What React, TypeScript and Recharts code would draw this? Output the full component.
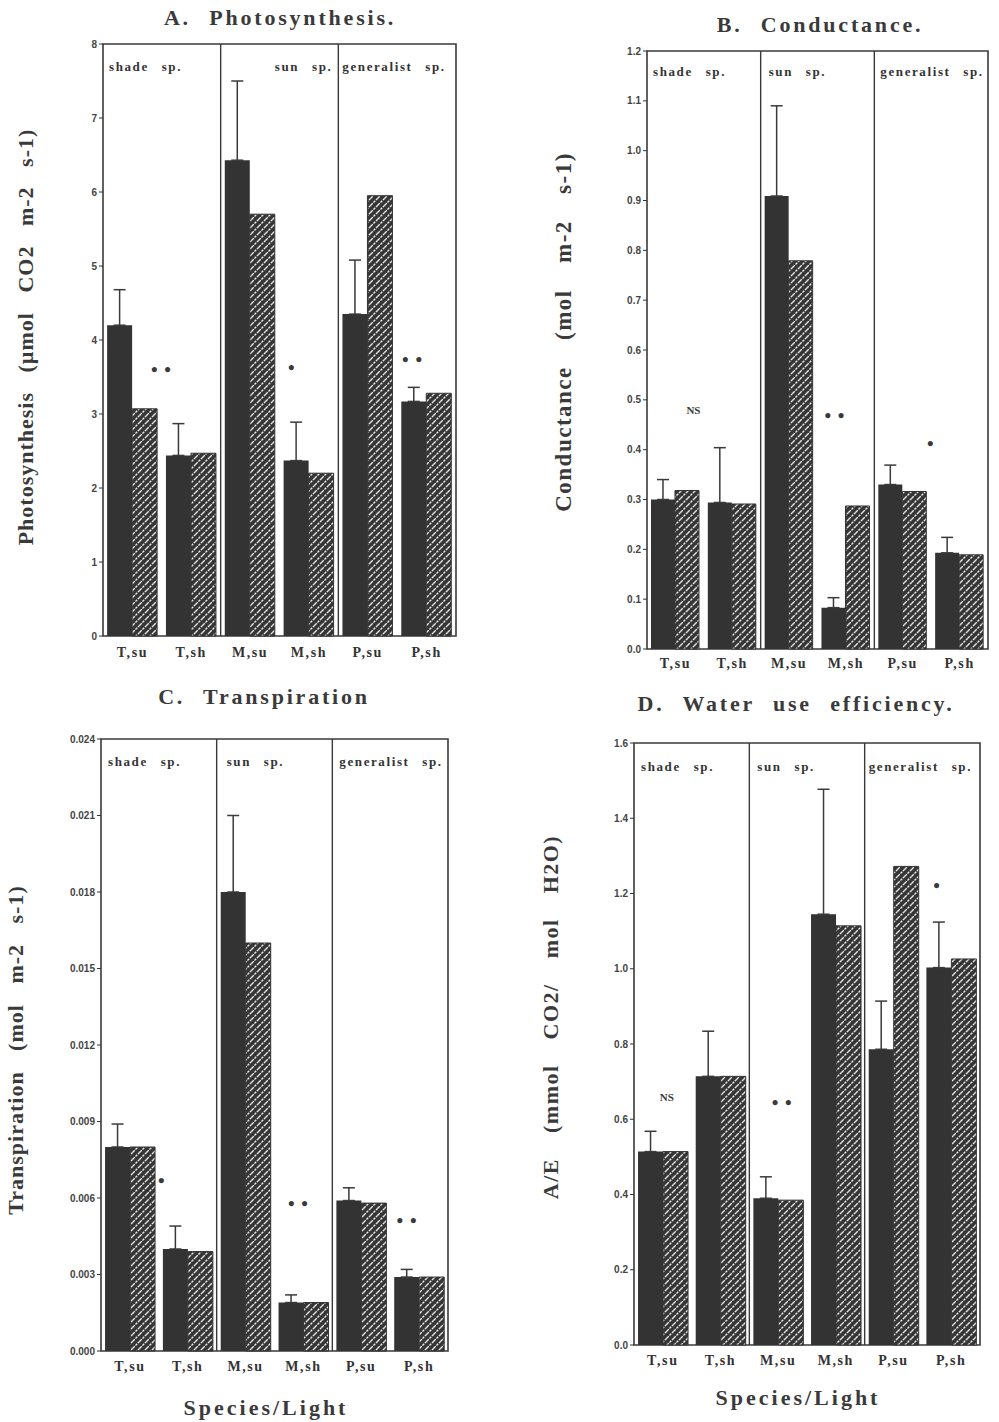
import {
  BarChart,
  Bar,
  XAxis,
  YAxis,
  ErrorBar,
  ReferenceLine,
  ReferenceArea,
  ReferenceDot,
} from "recharts";

const categories = ["T,su", "T,sh", "M,su", "M,sh", "P,su", "P,sh"];
const groupStarts = ["T,su", "M,su", "P,su"];
const groupNames = ["shade sp.", "sun sp.", "generalist sp."];

// A. Photosynthesis (umol CO2 m-2 s-1)
const photoSolid = [4.2, 2.44, 6.43, 2.37, 4.35, 3.17];
const photoErr = [0.48, 0.43, 1.07, 0.52, 0.73, 0.19];
const photoHatched = [3.07, 2.47, 5.7, 2.2, 5.95, 3.28];
const photoTicks = [0, 1, 2, 3, 4, 5, 6, 7, 8];
const photoMarks = [
  { cat: "T,su", value: 3.6, text: "• •" },
  { cat: "M,sh", value: 3.63, text: "•" },
  { cat: "P,sh", value: 3.73, text: "• •" },
];

// B. Conductance (mol m-2 s-1)
const condSolid = [0.3, 0.294, 0.909, 0.083, 0.33, 0.193];
const condErr = [0.04, 0.11, 0.181, 0.02, 0.039, 0.031];
const condHatched = [0.318, 0.291, 0.779, 0.287, 0.316, 0.189];
const condTicks = [0, 0.1, 0.2, 0.3, 0.4, 0.5, 0.6, 0.7, 0.8, 0.9, 1.0, 1.1, 1.2];
const condMarks = [
  { cat: "T,su", value: 0.48, text: "NS" },
  { cat: "M,sh", value: 0.468, text: "• •" },
  { cat: "P,su", value: 0.413, text: "•" },
];

// C. Transpiration (mol m-2 s-1)
const transSolid = [0.008, 0.004, 0.018, 0.0019, 0.0059, 0.0029];
const transErr = [0.0009, 0.0009, 0.003, 0.0003, 0.0005, 0.0003];
const transHatched = [0.008, 0.0039, 0.016, 0.0019, 0.0058, 0.0029];
const transTicks = [0, 0.003, 0.006, 0.009, 0.012, 0.015, 0.018, 0.021, 0.024];
const transMarks = [
  { cat: "T,sh", value: 0.0067, text: "•" },
  { cat: "M,sh", value: 0.0058, text: "• •" },
  { cat: "P,sh", value: 0.0051, text: "• •" },
];

// D. Water use efficiency (mmol CO2 / mol H2O)
const wueSolid = [0.514, 0.714, 0.39, 1.145, 0.786, 1.003];
const wueErr = [0.054, 0.12, 0.057, 0.332, 0.128, 0.121];
const wueHatched = [0.514, 0.714, 0.385, 1.114, 1.272, 1.026];
const wueTicks = [0, 0.2, 0.4, 0.6, 0.8, 1.0, 1.2, 1.4, 1.6];
const wueMarks = [
  { cat: "T,su", value: 0.66, text: "NS" },
  { cat: "M,su", value: 0.645, text: "• •" },
  { cat: "P,sh", value: 1.22, text: "•" },
];

const INK = "#333";
const SERIF = "'Liberation Serif', 'Times New Roman', serif";
const SANS = "'Liberation Sans', Arial, sans-serif";

interface Mark {
  cat: string;
  value: number;
  text: string;
}

interface YLabelStyle {
  fontSize: number;
  letterSpacing: number;
  wordSpacing: number;
}

interface PanelProps {
  id: string;
  yLabel: string;
  yLabelStyle: YLabelStyle;
  solid: number[];
  err: number[];
  hatched: number[];
  ticks: number[];
  digits: number;
  marks: Mark[];
  markDx: number[];
  left: number;
  top: number;
  plotLeft: number;
  plotRight: number;
  plotTop: number;
  plotBottom: number;
  yLabelX: number;
  yLabelDy: number;
  catMargin: number;
  groupAt: string[];
  groupDx: number[];
  groupDy: number;
  groupAnchor: ("start" | "end")[];
}

const Panel = (p: PanelProps) => {
  const data = categories.map((c, i) => ({
    cat: c,
    solid: p.solid[i],
    hatched: p.hatched[i],
    err: [0, p.err[i]],
  }));
  const max = p.ticks[p.ticks.length - 1];
  const width = p.plotRight + 10 - p.left;
  const height = p.plotBottom + 40 - p.top;
  const patId = `hatch-${p.id}`;

  const renderYLabel = (props: any) => {
    const vb = props.viewBox;
    const x = p.yLabelX - p.left;
    const y = vb.y + vb.height / 2 + p.yLabelDy;
    return (
      <text
        x={x}
        y={y}
        transform={`rotate(-90, ${x}, ${y})`}
        textAnchor="middle"
        dominantBaseline="central"
        fontFamily={SERIF}
        fontWeight="bold"
        fontSize={p.yLabelStyle.fontSize}
        letterSpacing={p.yLabelStyle.letterSpacing}
        wordSpacing={p.yLabelStyle.wordSpacing}
        fill="#3a3a3a"
      >
        {p.yLabel}
      </text>
    );
  };

  return (
    <div style={{ position: "absolute", left: p.left, top: p.top }}>
      <BarChart
        width={width}
        height={height}
        data={data}
        margin={{ top: p.plotTop - p.top, right: 10, bottom: 0, left: 0 }}
        barCategoryGap="7%"
        barGap={0}
      >
        <defs>
          <pattern id={patId} patternUnits="userSpaceOnUse" width={7} height={7}>
            <rect width={7} height={7} fill="#363636" />
            <path
              d="M-1,1 l2,-2 M0,7 l7,-7 M6,8 l2,-2"
              stroke="#ececec"
              strokeWidth={1.3}
              strokeDasharray="2.5 1"
            />
          </pattern>
        </defs>
        <XAxis
          dataKey="cat"
          interval={0}
          height={40}
          tickLine={false}
          axisLine={false}
          tickSize={0}
          tickMargin={p.catMargin}
          tick={{
            fontFamily: SERIF,
            fontWeight: "bold",
            fontSize: 14,
            letterSpacing: 1.6,
            fill: INK,
          }}
        />
        <YAxis
          type="number"
          domain={[0, max]}
          ticks={p.ticks}
          width={p.plotLeft - p.left}
          tickSize={4}
          tickMargin={2}
          axisLine={false}
          tickLine={{ stroke: INK }}
          tickFormatter={(v: number) => v.toFixed(p.digits)}
          tick={{ fontFamily: SANS, fontWeight: "bold", fontSize: 10, fill: "#444" }}
          label={renderYLabel}
        />
        <ReferenceArea
          y1={0}
          y2={max}
          fill="none"
          fillOpacity={0}
          stroke="#3a3a3a"
          strokeWidth={1.6}
        />
        {groupStarts.slice(1).map((g) => (
          <ReferenceLine key={g} x={g} position="start" stroke="#3a3a3a" strokeWidth={1.4} />
        ))}
        {groupNames.map((name, i) => (
          <ReferenceLine
            key={name}
            x={p.groupAt[i]}
            position="start"
            stroke="none"
            label={(props: any) => (
              <text
                x={props.viewBox.x + p.groupDx[i]}
                y={props.viewBox.y + p.groupDy}
                textAnchor={p.groupAnchor[i]}
                fontFamily={SERIF}
                fontWeight="bold"
                fontSize={13}
                letterSpacing={1.6}
                wordSpacing={8}
                fill="#333"
              >
                {name}
              </text>
            )}
          />
        ))}
        <Bar dataKey="solid" fill="#333" isAnimationActive={false}>
          <ErrorBar dataKey="err" direction="y" width={6} stroke="#3a3a3a" strokeWidth={1.5} />
        </Bar>
        <Bar
          dataKey="hatched"
          fill={`url(#${patId})`}
          stroke="#333"
          strokeWidth={1}
          isAnimationActive={false}
        />
        {p.marks.map((m, i) => (
          <ReferenceDot
            key={`${m.cat}-${i}`}
            x={m.cat}
            y={m.value}
            r={2}
            shape={(props: any) => (
              <text
                x={props.cx + p.markDx[i]}
                y={props.cy}
                textAnchor="middle"
                dominantBaseline="central"
                fontFamily={SERIF}
                fontWeight="bold"
                fontSize={m.text === "NS" ? 11 : 19}
                letterSpacing={m.text === "NS" ? 0 : 1}
                fill="#3a3a3a"
              >
                {m.text}
              </text>
            )}
          />
        ))}
      </BarChart>
    </div>
  );
};

const titleStyle = {
  fontFamily: SERIF,
  fontWeight: "bold" as const,
  fontSize: 22,
  letterSpacing: 2.8,
  wordSpacing: 10,
  fill: "#3a3a3a",
};

const App = () => {
  return (
    <div
      style={{
        position: "absolute",
        left: 0,
        top: 0,
        width: 999,
        height: 1422,
        background: "#fff",
        overflow: "hidden",
      }}
    >
      <Panel
        id="a"
        yLabel="Photosynthesis (µmol CO2 m-2 s-1)"
        yLabelStyle={{ fontSize: 22, letterSpacing: 1, wordSpacing: 13 }}
        solid={photoSolid}
        err={photoErr}
        hatched={photoHatched}
        ticks={photoTicks}
        digits={0}
        marks={photoMarks}
        markDx={[29, -17, -14]}
        left={0}
        top={30}
        plotLeft={103}
        plotRight={456}
        plotTop={44}
        plotBottom={636}
        yLabelX={25}
        yLabelDy={-3}
        catMargin={11}
        groupAt={["T,su", "P,su", "P,su"]}
        groupDx={[6, -6, 4]}
        groupDy={27}
        groupAnchor={["start", "end", "start"]}
      />
      <Panel
        id="b"
        yLabel="Conductance (mol m-2 s-1)"
        yLabelStyle={{ fontSize: 23, letterSpacing: 1.5, wordSpacing: 19 }}
        solid={condSolid}
        err={condErr}
        hatched={condHatched}
        ticks={condTicks}
        digits={1}
        marks={condMarks}
        markDx={[18, -11, 28]}
        left={520}
        top={36}
        plotLeft={647}
        plotRight={988}
        plotTop={51}
        plotBottom={649}
        yLabelX={563}
        yLabelDy={-18}
        catMargin={9}
        groupAt={groupStarts}
        groupDx={[6, 8, 6]}
        groupDy={25}
        groupAnchor={["start", "start", "start"]}
      />
      <Panel
        id="c"
        yLabel="Transpiration (mol m-2 s-1)"
        yLabelStyle={{ fontSize: 22, letterSpacing: 1, wordSpacing: 14 }}
        solid={transSolid}
        err={transErr}
        hatched={transHatched}
        ticks={transTicks}
        digits={3}
        marks={transMarks}
        markDx={[-26, -5, -12]}
        left={0}
        top={725}
        plotLeft={101}
        plotRight={448}
        plotTop={739}
        plotBottom={1351}
        yLabelX={15}
        yLabelDy={5}
        catMargin={10}
        groupAt={groupStarts}
        groupDx={[7, 10, 7]}
        groupDy={27}
        groupAnchor={["start", "start", "start"]}
      />
      <Panel
        id="d"
        yLabel="A/E (mmol CO2/ mol H2O)"
        yLabelStyle={{ fontSize: 22, letterSpacing: 1.5, wordSpacing: 18 }}
        solid={wueSolid}
        err={wueErr}
        hatched={wueHatched}
        ticks={wueTicks}
        digits={1}
        marks={wueMarks}
        markDx={[4, 4, -14]}
        left={520}
        top={729}
        plotLeft={634}
        plotRight={980}
        plotTop={743}
        plotBottom={1345}
        yLabelX={550}
        yLabelDy={-27}
        catMargin={10}
        groupAt={groupStarts}
        groupDx={[7, 8, 4]}
        groupDy={28}
        groupAnchor={["start", "start", "start"]}
      />
      <svg
        width={999}
        height={1422}
        style={{ position: "absolute", left: 0, top: 0, pointerEvents: "none" }}
      >
        <text x={280} y={25} textAnchor="middle" {...titleStyle}>
          A. Photosynthesis.
        </text>
        <text x={820} y={32} textAnchor="middle" {...titleStyle}>
          B. Conductance.
        </text>
        <text x={264} y={704} textAnchor="middle" {...titleStyle}>
          C. Transpiration
        </text>
        <text x={796} y={711} textAnchor="middle" {...titleStyle}>
          D. Water use efficiency.
        </text>
        <text x={266} y={1415} textAnchor="middle" {...titleStyle} letterSpacing={3}>
          Species/Light
        </text>
        <text x={798} y={1405} textAnchor="middle" {...titleStyle} letterSpacing={3}>
          Species/Light
        </text>
      </svg>
    </div>
  );
};

export default App;
